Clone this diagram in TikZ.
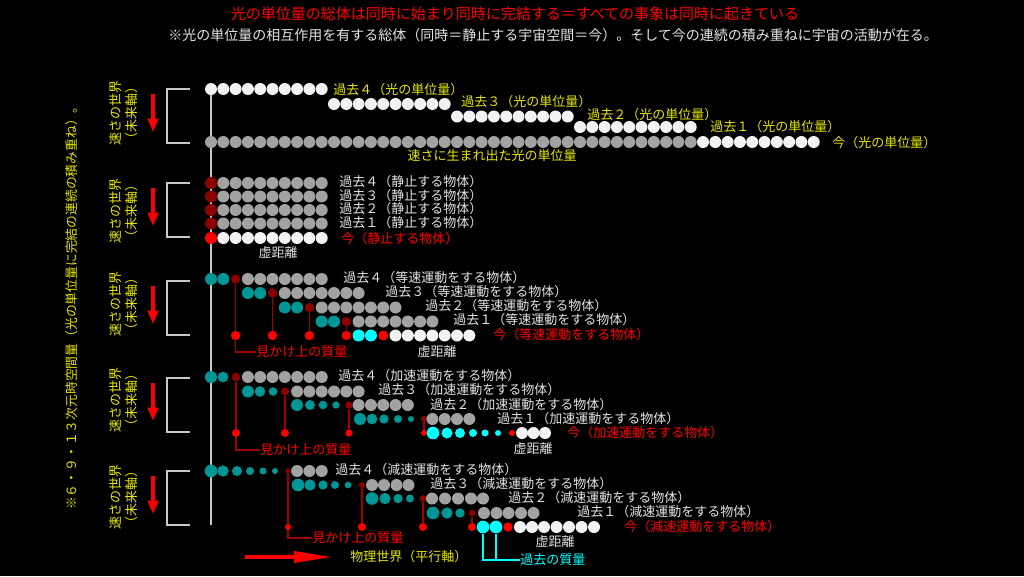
\documentclass[tikz,border=0pt]{standalone}
\usepackage{fontspec}
\newfontfamily\jp{Noto Sans CJK JP}
\usetikzlibrary{arrows.meta}
\definecolor{ylw}{RGB}{230,230,0}
\definecolor{txt}{RGB}{228,228,228}
\definecolor{dw}{RGB}{242,242,242}
\definecolor{dg}{RGB}{162,162,162}
\definecolor{dt}{RGB}{0,150,150}
\definecolor{dc}{RGB}{0,255,255}
\definecolor{dm}{RGB}{140,0,0}
\definecolor{ln}{RGB}{160,0,0}
\definecolor{ax}{RGB}{200,200,200}
\begin{document}
\begin{tikzpicture}[x=0.75pt,y=-0.75pt,
  declare function={cx(\k)=211+12.3*\k;},
  qd/.style={circle,inner sep=0pt,minimum size=#1},
  wq/.style={qd=#1,fill=dw},wq/.default=9pt,
  gq/.style={qd=#1,fill=dg},gq/.default=9pt,
  tq/.style={qd=#1,fill=dt},tq/.default=9pt,
  cq/.style={qd=#1,fill=dc},cq/.default=9pt,
  mq/.style={qd=#1,fill=dm},mq/.default=7pt,
  rq/.style={qd=#1,fill=red},rq/.default=7pt,
  lbl/.style={anchor=west,inner sep=0pt,text=txt,font=\jp\fontsize{9.75}{11}\selectfont},
  ylbl/.style={lbl,text=ylw},
  rlbl/.style={lbl,text=red},
  side/.style={inner sep=0pt,rotate=90,align=center,text=ylw,font=\jp\fontsize{9.75}{12}\selectfont},
  brk/.style={draw=ax,line width=1.5pt},
  dn/.style={draw=red,line width=2.6pt,-{Triangle[length=10pt,width=7.5pt]}},
  mline/.style={draw=ln,line width=0.9pt},
  cline/.style={draw=dc,line width=0.9pt}]
\path[use as bounding box,fill=black](0,0)rectangle(1024,576);
% titles
\node[inner sep=0pt,text=red,font=\jp\fontsize{11.25}{13}\selectfont](ttl)at(515,14){光の単位量の総体は同時に始まり同時に完結する＝すべての事象は同時に起きている};
\node[lbl,font=\jp\fontsize{10.5}{13}\selectfont](sub)at(168,35){※光の単位量の相互作用を有する総体（同時＝静止する宇宙空間＝今）。そして今の連続の積み重ねに宇宙の活動が在る。};
\node[side,font=\jp\fontsize{9.6}{12}\selectfont](note)at(72,305){※６・９・１３次元時空間量（光の単位量に完結の連続の積み重ね）。};
% axis
\coordinate(axT)at(211,89);
\coordinate(axB)at(211,525);
\draw[ax,line width=1.5pt](axT)--(axB);
% brackets, arrows, side texts
\foreach \t/\n in {89/1,183/2,281/3,378/4,471/5}{
  \draw[brk](190,\t)--(167,\t)--(167,\t+54)--(190,\t+54);
  \coordinate(dA\n)at(153,\t+5);
  \coordinate(dB\n)at(153,\t+43);
  \draw[dn](dA\n)--(dB\n);
}
\foreach \y/\n in {113/1,211/2,304/3,400/4,497/5}
  \node[side](w\n)at(124,\y){速さの世界\\（未来軸）};
%
% light units
\foreach \i in {0,...,9}\node[wq](k4-\i)at({cx(\i)},89){};
\foreach \i in {10,...,19}\node[wq](k3-\i)at({cx(\i)},104){};
\foreach \i in {20,...,29}\node[wq](k2-\i)at({cx(\i)},116.5){};
\foreach \i in {30,...,39}\node[wq](k1-\i)at({cx(\i)},127){};
\foreach \i in {0,...,39}\node[gq](k0-\i)at({cx(\i)},142){};
\foreach \i in {40,...,49}\node[wq](k0-\i)at({cx(\i)},142){};
\node[ylbl](k4t)at(333,89.5){過去４（光の単位量）};
\node[ylbl](k3t)at(461,102){過去３（光の単位量）};
\node[ylbl](k2t)at(587,114.5){過去２（光の単位量）};
\node[ylbl](k1t)at(710,127){過去１（光の単位量）};
\node[ylbl](k0t)at(832,143){今（光の単位量）};
\node[ylbl,anchor=center](kb)at(492,156){速さに生まれ出た光の単位量};
%
% resting object
\foreach \y/\n/\z in {183/4/４,196.5/3/３,210/2/２,223.5/1/１}{
  \node[mq=9pt](s\n-0)at(211,\y){};
  \foreach \i in {1,...,9}\node[gq](s\n-\i)at({cx(\i)},\y){};
  \node[lbl](s\n t)at(339,\y-1){過去\z（静止する物体）};
}
\node[rq=9pt](s0-0)at(211,238){};
\foreach \i in {1,...,9}\node[wq](s0-\i)at({cx(\i)},238){};
\node[rlbl](s0t)at(341,239){今（静止する物体）};
\node[lbl,anchor=center](v2)at(278,253){虚距離};
%
% uniform motion
\foreach \i in {0,1}\node[tq](u4-\i)at({cx(\i)},279){};
\node[mq](m3a)at({cx(2)},279){};
\foreach \i in {3,...,9}\node[gq](u4-\i)at({cx(\i)},279){};
\foreach \i in {3,4}\node[tq](u3-\i)at({cx(\i)},293){};
\node[mq](m3b)at({cx(5)},293){};
\foreach \i in {6,...,12}\node[gq](u3-\i)at({cx(\i)},293){};
\foreach \i in {6,7}\node[tq](u2-\i)at({cx(\i)},307.5){};
\node[mq](m3c)at({cx(8)},307.5){};
\foreach \i in {9,...,15}\node[gq](u2-\i)at({cx(\i)},307.5){};
\foreach \i in {9,10}\node[tq](u1-\i)at({cx(\i)},321.5){};
\node[mq](m3d)at({cx(11)},321.5){};
\foreach \i in {12,...,18}\node[gq](u1-\i)at({cx(\i)},321.5){};
\node[rq](r3a)at({cx(2)},335.5){};
\node[rq](r3b)at({cx(5)},335.5){};
\node[rq](r3c)at({cx(8)},335.5){};
\node[rq](r3d)at({cx(11)},335.5){};
\foreach \i in {12,13}\node[cq](u0-\i)at({cx(\i)},335.5){};
\node[rq=7.5pt](u0-14)at({cx(14)},335.5){};
\foreach \i in {15,...,21}\node[wq](u0-\i)at({cx(\i)},335.5){};
\foreach \n in {a,b,c,d}\draw[mline](m3\n)--(r3\n);
\node[lbl](u4t)at(343,278){過去４（等速運動をする物体）};
\node[lbl](u3t)at(385,292){過去３（等速運動をする物体）};
\node[lbl](u2t)at(425,306){過去２（等速運動をする物体）};
\node[lbl](u1t)at(453,320){過去１（等速運動をする物体）};
\node[rlbl](u0t)at(493,335){今（等速運動をする物体）};
\node[lbl,anchor=center](v3)at(437,352){虚距離};
\node[rlbl](q3)at(256,352){見かけ上の質量};
\draw[mline](r3a)|-(q3.west);
%
% accelerated motion
\foreach \x/\d [count=\n] in {211/9pt,223/8pt}\node[tq=\d](a4-\n)at(\x,377){};
\node[mq=6.5pt](m4a)at(236,377){};
\foreach \i in {3,...,9}\node[gq](a4-\i)at({cx(\i)},377){};
\foreach \x/\d [count=\n] in {248/9pt,260/8pt,273/6.5pt}\node[tq=\d](a3-\n)at(\x,391.5){};
\node[mq=6pt](m4b)at(285,391.5){};
\foreach \i in {7,...,12}\node[gq](a3-\i)at({cx(\i)},391.5){};
\foreach \x/\d [count=\n] in {297/9pt,310/7.5pt,323/6.5pt,336/5.5pt}\node[tq=\d](a2-\n)at(\x,405){};
\node[mq=5.5pt](m4c)at(349,405){};
\foreach \i in {12,...,16}\node[gq](a2-\i)at({cx(\i)},405){};
\foreach \x/\d [count=\n] in {360/9pt,372/8pt,384/7pt,398/6pt,411/4.5pt}\node[tq=\d](a1-\n)at(\x,419){};
\node[mq=4.5pt](m4d)at(424,419){};
\foreach \i in {18,...,21}\node[gq](a1-\i)at({cx(\i)},419){};
\node[rq=6pt](r4a)at(236,433){};
\node[rq=6pt](r4b)at(285,433){};
\node[rq=5.5pt](r4c)at(349,433){};
\node[rq=4.5pt](r4d)at(424,433){};
\foreach \x/\d [count=\n] in {433/9.5pt,447/8.25pt,460/7.5pt,473/6pt,485/5.25pt,498/4.5pt}\node[cq=\d](a0-\n)at(\x,433){};
\node[rq=4.5pt](a0-r)at(512,433){};
\foreach \x [count=\n] in {522,533.5,545}\node[wq](a0-w\n)at(\x,433){};
\foreach \n in {a,b,c,d}\draw[mline](m4\n)--(r4\n);
\node[lbl](a4t)at(338,376){過去４（加速運動をする物体）};
\node[lbl](a3t)at(378,390){過去３（加速運動をする物体）};
\node[lbl](a2t)at(430,404.5){過去２（加速運動をする物体）};
\node[lbl](a1t)at(497,419){過去１（加速運動をする物体）};
\node[rlbl](a0t)at(567,432.5){今（加速運動をする物体）};
\node[lbl,anchor=center](v4)at(533,449){虚距離};
\node[rlbl](q4)at(260,450){見かけ上の質量};
\draw[mline](r4a)|-(q4.west);
%
% decelerated motion
\foreach \x/\d [count=\n] in {211/9.5pt,223/8.5pt,237/7.5pt,250/6pt,263/5.25pt,275/4.5pt}\node[tq=\d](d4-\n)at(\x,471){};
\node[mq=4pt](m5a)at(288,471){};
\foreach \i in {7,8,9}\node[gq](d4-\i)at({cx(\i)},471){};
\foreach \x/\d [count=\n] in {298/9.5pt,310/8.5pt,323/7pt,335/6pt,348/5pt}\node[tq=\d](d3-\n)at(\x,485){};
\node[mq=4.5pt](m5b)at(362,485){};
\foreach \x [count=\n] in {372,384,396.5,408.5}\node[gq](d3-g\n)at(\x,485){};
\foreach \x/\d [count=\n] in {372/9.5pt,385/8.5pt,398/7pt,410/6pt}\node[tq=\d](d2-\n)at(\x,498.5){};
\node[mq=5pt](m5c)at(423,498.5){};
\foreach \x [count=\n] in {432,445,458,471,483}\node[gq](d2-g\n)at(\x,498.5){};
\foreach \x/\d [count=\n] in {433/9.5pt,447/8.5pt,460/7pt}\node[tq=\d](d1-\n)at(\x,513){};
\node[mq=5pt](m5d)at(472,513){};
\foreach \x [count=\n] in {484,496.5,508.5,521,533.5}\node[gq](d1-g\n)at(\x,513){};
\node[rq=4.5pt](r5a)at(288,527){};
\node[rq=6pt](r5b)at(362,527){};
\node[rq=6pt](r5c)at(423,527){};
\node[rq=6pt](r5d)at(472,527){};
\node[cq=9.5pt](c5a)at(483,527){};
\node[cq=9.5pt](c5b)at(496,527){};
\node[rq](d0-r)at(508,527){};
\foreach \x [count=\n] in {520,532,544,556.5,569,581.5,594}\node[wq](d0-w\n)at(\x,527){};
\foreach \n in {a,b,c,d}\draw[mline](m5\n)--(r5\n);
\node[lbl](d4t)at(335,470){過去４（減速運動をする物体）};
\node[lbl](d3t)at(430,484){過去３（減速運動をする物体）};
\node[lbl](d2t)at(508,497.5){過去２（減速運動をする物体）};
\node[lbl](d1t)at(577,512){過去１（減速運動をする物体）};
\node[rlbl](d0t)at(624,527){今（減速運動をする物体）};
\node[lbl,anchor=center](v5)at(555,542){虚距離};
\node[rlbl](q5)at(312,538){見かけ上の質量};
\draw[mline](r5a)|-(q5.west);
\node[lbl,text=dc](p5)at(520,560){過去の質量};
\draw[cline](c5a)|-(p5.west);
\draw[cline](c5b)|-(p5.west);
%
% physical world
\coordinate(pwA)at(245,557);
\coordinate(pwB)at(334,557);
\draw[red,line width=3.5pt,-{Triangle[length=30pt,width=8pt]}](pwA)--(pwB);
\node[ylbl](pw)at(350,557){物理世界（平行軸）};
\end{tikzpicture}
\end{document}
